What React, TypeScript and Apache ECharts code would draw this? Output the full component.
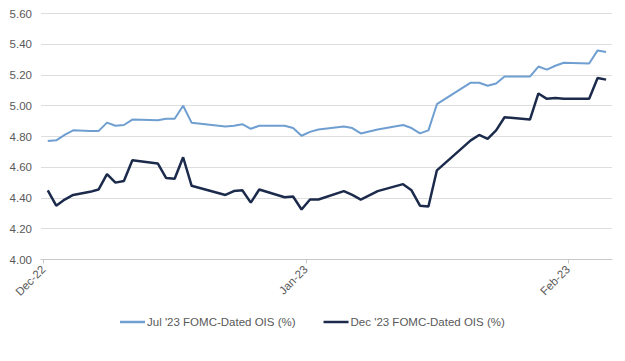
import React, { useEffect, useRef } from "react";
import * as echarts from "echarts";

const dates = [
  "2022-12-01", "2022-12-02", "2022-12-03", "2022-12-04", "2022-12-06", "2022-12-07",
  "2022-12-08", "2022-12-09", "2022-12-10", "2022-12-11", "2022-12-14", "2022-12-15",
  "2022-12-16", "2022-12-17", "2022-12-18", "2022-12-22", "2022-12-23", "2022-12-24",
  "2022-12-25", "2022-12-26", "2022-12-29", "2022-12-30", "2022-12-31", "2023-01-01",
  "2023-01-02", "2023-01-05", "2023-01-06", "2023-01-07", "2023-01-09", "2023-01-12",
  "2023-01-13", "2023-01-14", "2023-01-15", "2023-01-16", "2023-01-20", "2023-01-21",
  "2023-01-22", "2023-01-23", "2023-01-24", "2023-01-27", "2023-01-28", "2023-01-29",
  "2023-01-30", "2023-01-31", "2023-02-03", "2023-02-04", "2023-02-05",
];

const jul23 = [
  4.77, 4.775, 4.81, 4.84, 4.835, 4.835,
  4.89, 4.87, 4.875, 4.91, 4.905, 4.915,
  4.915, 5.0, 4.89, 4.865, 4.87, 4.88,
  4.85, 4.87, 4.87, 4.855, 4.805, 4.83,
  4.845, 4.865, 4.855, 4.82, 4.845, 4.875,
  4.855, 4.82, 4.84, 5.01, 5.15, 5.15,
  5.13, 5.145, 5.19, 5.19, 5.255, 5.235,
  5.26, 5.28, 5.275, 5.36, 5.35,
];

const dec23 = [
  4.45, 4.35, 4.39, 4.42, 4.44, 4.455,
  4.555, 4.5, 4.51, 4.645, 4.625, 4.53,
  4.525, 4.665, 4.48, 4.42, 4.445, 4.45,
  4.37, 4.455, 4.405, 4.41, 4.325, 4.39,
  4.39, 4.445, 4.42, 4.39, 4.445, 4.49,
  4.45, 4.35, 4.345, 4.58, 4.775, 4.81,
  4.785, 4.84, 4.925, 4.91, 5.08, 5.045,
  5.05, 5.045, 5.045, 5.18, 5.17,
];

const monthTickDates = ["2022-12-01", "2023-01-01", "2023-02-01"];
const monthTickLabels = ["Dec-22", "Jan-23", "Feb-23"];

const seriesNames = ["Jul '23 FOMC-Dated OIS (%)", "Dec '23 FOMC-Dated OIS (%)"];

const DAY = 86400000;
const origin = Date.UTC(2022, 11, 1);
const dayIndex = (s: string) => {
  const [y, m, d] = s.split("-").map(Number);
  return Math.round((Date.UTC(y, m - 1, d) - origin) / DAY);
};

export default function App() {
  const ref = useRef<HTMLDivElement>(null);

  useEffect(() => {
    if (!ref.current) return;
    const chart = echarts.init(ref.current, null, { renderer: "svg" });
    const tickVals = monthTickDates.map(dayIndex);
    const font = "'Liberation Sans', Arial, sans-serif";
    chart.setOption({
      animation: false,
      grid: { left: 41, right: 13, top: 13.5, bottom: 101.5, containLabel: false },
      xAxis: {
        type: "value",
        min: -0.3,
        max: 67.2,
        splitLine: { show: false },
        axisLine: { show: true, lineStyle: { color: "#c8c8c8", width: 1 } },
        axisTick: {
          show: true,
          customValues: tickVals,
          length: 4,
          lineStyle: { color: "#c8c8c8" },
        },
        axisLabel: {
          customValues: tickVals,
          rotate: 45,
          margin: 8,
          color: "#595959",
          fontSize: 11.5,
          fontFamily: font,
          formatter: (v: number) => {
            const i = tickVals.indexOf(Math.round(v));
            return i >= 0 ? monthTickLabels[i] : "";
          },
        },
      },
      yAxis: {
        type: "value",
        min: 4,
        max: 5.6,
        interval: 0.2,
        axisLine: { show: false },
        axisTick: { show: false },
        splitLine: { lineStyle: { color: "#dedede", width: 1 } },
        axisLabel: {
          color: "#595959",
          fontSize: 11.5,
          fontFamily: font,
          margin: 9,
          formatter: (v: number) => v.toFixed(2),
        },
      },
      legend: {
        top: 311,
        left: 115,
        icon: "rect",
        itemWidth: 25,
        itemHeight: 2.5,
        itemGap: 28,
        textStyle: { color: "#595959", fontSize: 11.5, fontFamily: font, padding: [0, 0, 0, -3] },
        data: seriesNames,
      },
      series: [
        {
          name: seriesNames[0],
          type: "line",
          showSymbol: false,
          symbol: "none",
          lineStyle: { color: "#6f9fd0", width: 2 },
          itemStyle: { color: "#6f9fd0" },
          data: dates.map((d, i) => [dayIndex(d) + 0.5, jul23[i]]),
        },
        {
          name: seriesNames[1],
          type: "line",
          showSymbol: false,
          symbol: "none",
          lineStyle: { color: "#1c2b4c", width: 2.5 },
          itemStyle: { color: "#1c2b4c" },
          data: dates.map((d, i) => [dayIndex(d) + 0.5, dec23[i]]),
        },
      ],
    });
    return () => chart.dispose();
  }, []);

  return <div ref={ref} style={{ width: 625, height: 361, marginLeft: -8, marginTop: -8 }} />;
}
